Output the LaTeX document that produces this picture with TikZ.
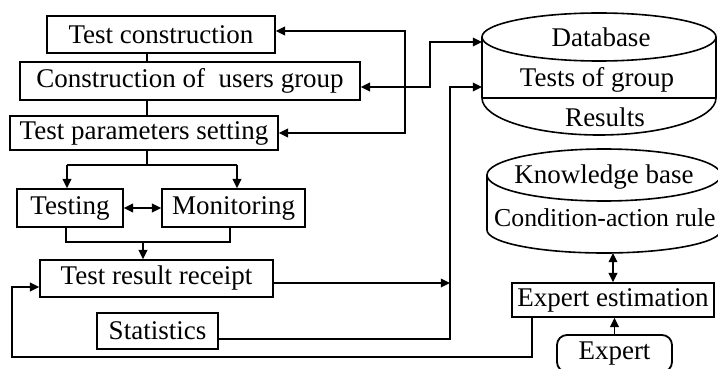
\documentclass[tikz,border=0pt]{standalone}
\usepackage{fontspec}
\setmainfont{Liberation Serif}
\usetikzlibrary{positioning,arrows.meta}
\tikzset{
  blk/.style={rectangle, draw, line width=0.9pt, inner sep=0pt,
    minimum height=18.5pt, font=\fontsize{13.5}{15}\selectfont},
  lbl/.style={inner sep=0pt, font=\fontsize{13.5}{15}\selectfont},
  ln/.style={line width=0.7pt},
  arr/.style={-{Triangle[length=4.6pt,width=4.4pt]}, line width=0.7pt},
  darr/.style={{Triangle[length=4.6pt,width=4.4pt]}-{Triangle[length=4.6pt,width=4.4pt]}, line width=0.7pt},
}
\begin{document}
\begin{tikzpicture}[x=0.5pt, y=-0.5pt]
  \useasboundingbox (0,0) rectangle (718,369);
  \fill[white] (0,0) rectangle (718,369);

  % left column
  \node[blk, minimum width=114pt] (tc) at (161,34.5) {Test construction};
  \node[blk, minimum width=170pt, minimum height=19pt] (cug) at (190,81) {Construction of\ \ users group};
  \node[blk, minimum width=134pt, minimum height=17pt] (tps) at (144,133) {Test parameters setting};
  \node[blk, minimum width=53pt, minimum height=19pt] (testing) at (70,208) {Testing};
  \node[blk, minimum width=71.5pt, minimum height=19pt] (monitoring) at (233.5,208) {Monitoring};
  \node[blk, minimum width=116.5pt] (trr) at (156.5,278.5) {Test result receipt};
  \node[blk, minimum width=60.5pt, minimum height=18pt] (stats) at (157.5,331) {Statistics};

  % right column
  \node[blk, minimum width=101pt, minimum height=17pt] (ee) at (613,300) {Expert estimation};
  \node[blk, minimum width=57.5pt, rounded corners=5pt] (expert) at (614.5,353.5) {Expert};

  % database
  \draw[line width=0.8pt] (599,37) ellipse[x radius=58.5pt, y radius=12pt];
  \draw[line width=0.8pt] (482,37) -- (482,98) arc[start angle=180, end angle=360, x radius=58.5pt, y radius=18.5pt] -- (716,37);
  \draw[line width=0.8pt] (482,98) -- (716,98);
  \node[lbl] (db) at (601,37) {Database};
  \node[lbl] (dbtests) at (597,80) {Tests of group};
  \node[lbl] (dbres) at (605,117) {Results};
  \coordinate (db-in1) at (482,42);
  \coordinate (db-in2) at (482,87);

  % knowledge base
  \draw[line width=0.8pt] (604,175) ellipse[x radius=58.5pt, y radius=13pt];
  \draw[line width=0.8pt] (487,175) -- (487,230) arc[start angle=180, end angle=360, x radius=58.5pt, y radius=11.5pt] -- (721,175);
  \node[lbl] (kb) at (604,177) {Knowledge base};
  \node[lbl, anchor=east, font=\fontsize{12.9}{15}\selectfont] (kbrule) at (716,218) {Condition-action rule};
  \coordinate (kb-s) at (613,253);

  % spine and fork
  \coordinate (sp) at (147,0);
  \draw[ln] (tc.south -| sp) -- (cug.north -| sp);
  \draw[ln] (cug.south -| sp) -- (tps.north -| sp);
  \coordinate (fork) at (147,165);
  \coordinate (fl) at (67,165);
  \coordinate (fr) at (237,165);
  \draw[ln] (tps.south -| sp) -- (fork);
  \draw[ln] (fl) -- (fr);
  \draw[arr] (fl) -- (fl |- testing.north);
  \draw[arr] (fr) -- (fr |- monitoring.north);
  \draw[darr] (testing) -- (monitoring);

  % merge into result receipt
  \coordinate (mrg) at (143,242);
  \draw[ln] ([xshift=-2pt]testing.south) |- (mrg) -| ([xshift=-1.75pt]monitoring.south);
  \draw[arr] (mrg) -- (mrg |- trr.north);

  % feedback from expert estimation
  \coordinate (fbr) at (532,357);
  \coordinate (fbl) at (12,357);
  \draw[arr] (fbr |- ee.south) -- (fbr) -- (fbl) |- ([yshift=-4.25pt]trr.west);

  % bus to database
  \coordinate (bus) at (450,0);
  \draw[arr] ([yshift=-2.25pt]trr.east) -- ([yshift=-2.25pt]trr.east -| bus);
  \draw[arr] ([yshift=-4pt]stats.east) -| (bus |- db-in2) -- (db-in2);

  % loops on the left column
  \coordinate (ret) at (405,133);
  \draw[darr] ([yshift=1.75pt]tc.east) -| (ret) -- (tps.east);
  \coordinate (jog) at (430,42);
  \draw[darr] ([yshift=-3pt]cug.east) -| (jog) -- (db-in1);

  % expert side
  \draw[darr] (kb-s) -- (ee.north);
  \draw[arr] (expert.north) -- (expert.north |- ee.south);
\end{tikzpicture}
\end{document}
